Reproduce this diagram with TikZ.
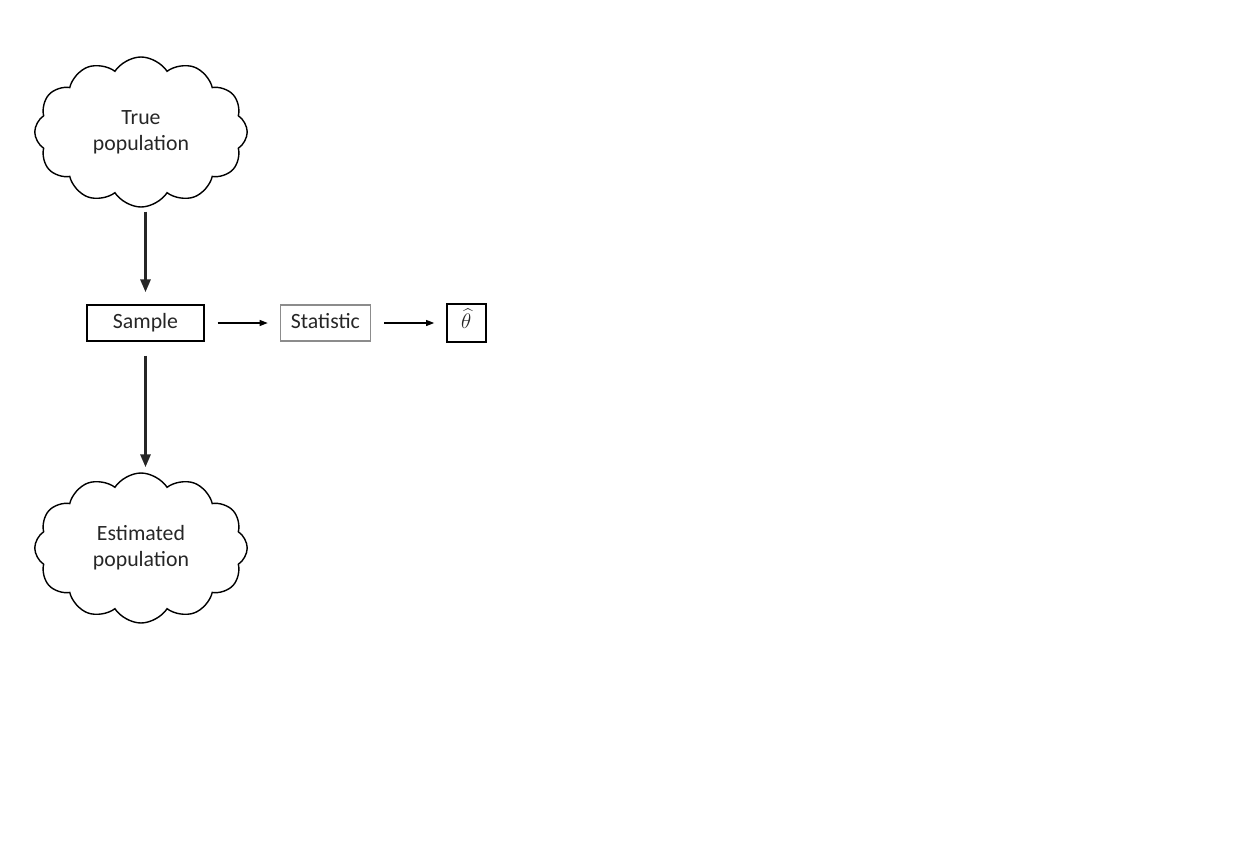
\documentclass[tikz,border=0pt]{standalone}
\usepackage{fontspec}
\setmainfont{Carlito}
\usetikzlibrary{positioning, shapes.symbols, arrows.meta}

\begin{document}
\begin{tikzpicture}[
        node distance=1.52cm,
        every node/.style={font=\fontsize{12.4}{15}\selectfont, text=black!85},
        box/.style={draw, rectangle, line width=0.8pt, minimum height=0.72cm, text height=1.75ex, text depth=0.45ex, align=center},
        popcloud/.style={draw, cloud, cloud puffs=12, cloud puff arc=115, aspect=1.45, line width=0.8pt, minimum width=4.25cm, minimum height=3cm, align=center, inner sep=0pt},
        bigarrow/.style={-{Triangle[length=0.26cm, width=0.2cm]}, line width=1.7pt, black!85},
        smallarrow/.style={-{Triangle[length=0.16cm, width=0.12cm]}, line width=0.6pt}
    ]
    \useasboundingbox (0,0) rectangle (24.7,-17.12);

    \node[box, minimum width=2.34cm] (sample) at (2.91,-6.46) {Sample};
    \node[box, draw=black!45, minimum width=1.8cm, right=1.5cm of sample] (statistic) {Statistic};
    \node[box, minimum width=0.78cm, minimum height=0.76cm, right=1.5cm of statistic] (thetahat) {$\widehat{\theta}$};

    \node[popcloud] (truepop) at (2.82,-2.64) {True\\population};
    \node[popcloud] (estpop) at (2.82,-10.96) {Estimated\\population};

    \draw[bigarrow, shorten <=0.08cm, shorten >=0.24cm] (2.91,0 |- truepop.south) -- (sample.north);
    \draw[bigarrow, shorten <=0.28cm, shorten >=0.1cm] (sample.south) -- (2.91,0 |- estpop.north);

    \draw[smallarrow, shorten <=0.26cm, shorten >=0.24cm] (sample.east) -- (statistic.west);
    \draw[smallarrow, shorten <=0.26cm, shorten >=0.24cm] (statistic.east) -- (thetahat.west);

\end{tikzpicture}
\end{document}
